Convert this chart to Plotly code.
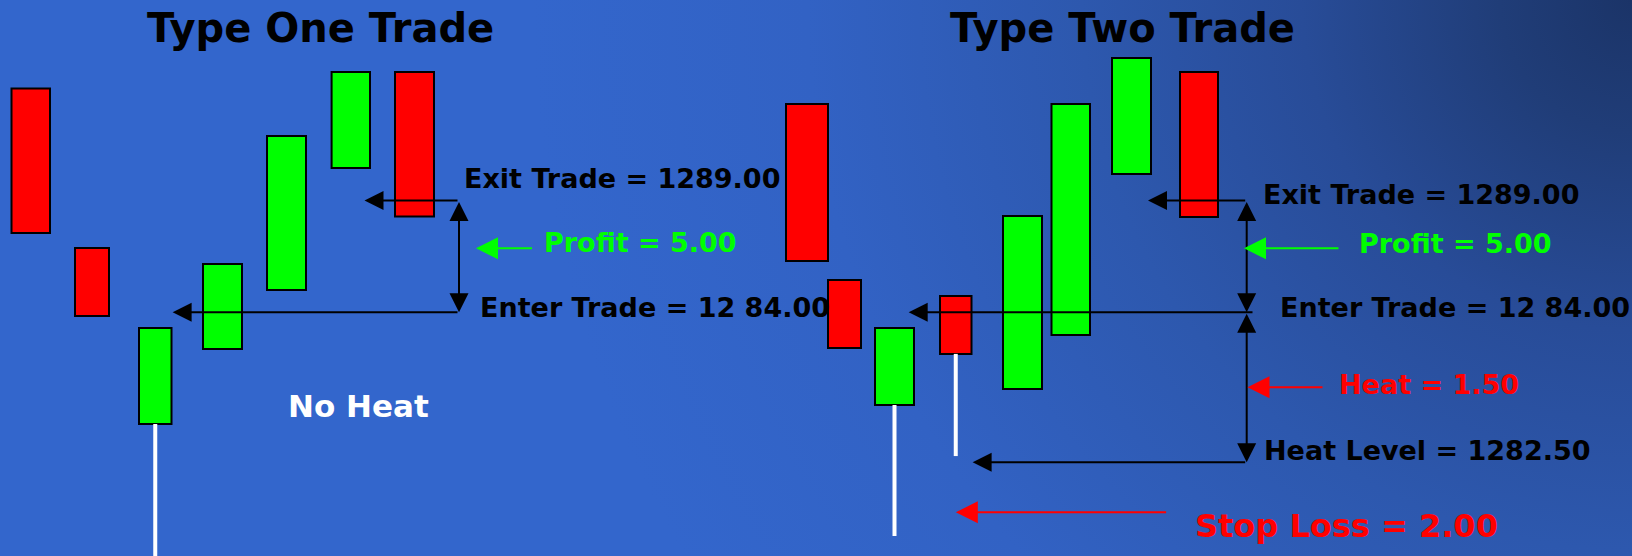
import base64
import plotly.graph_objects as go

# ---------------------------------------------------------------------------
# Candles: horizontal slot centre, body width, open, close, low (price)
# first 7 = "Type One Trade", last 8 = "Type Two Trade"
# ---------------------------------------------------------------------------
cndl_x = [30.75, 92.0, 155.25, 222.5, 286.5, 350.8, 414.5,
          807.0, 844.5, 894.5, 955.75, 1022.5, 1070.75, 1131.5, 1199.0]
cndl_w = [38.5, 34.0, 32.5, 39.0, 39.0, 38.4, 39.0,
          42.0, 33.0, 39.0, 31.5, 39.0, 38.5, 39.0, 38.0]
cndl_open = [1294.01, 1286.88, 1279.00, 1282.36, 1285.00, 1290.45, 1294.75,
             1293.32, 1285.44, 1279.85, 1284.73, 1280.57, 1282.98, 1290.19, 1294.75]
cndl_close = [1287.55, 1283.83, 1283.30, 1286.16, 1291.88, 1294.75, 1288.28,
              1286.29, 1282.40, 1283.30, 1282.14, 1288.31, 1293.32, 1295.37, 1288.26]
cndl_low = [1287.55, 1283.83, 1272.80, 1282.36, 1285.00, 1290.45, 1288.28,
            1286.29, 1282.40, 1274.00, 1277.57, 1280.57, 1282.98, 1290.19, 1288.26]

# Trade levels
exit_price = 1289.00
enter_price = 1284.00
heat_level = 1282.50
profit = 5.00
heat = 1.50
stop_loss = 2.00

# Pointer levels for the coloured call-out arrows
profit_pointer = 1286.86
heat_pointer = enter_price - heat / 2
stop_pointer = enter_price - stop_loss
no_heat_level = 1279.81

# Horizontal anchor points of the measuring arrows
t1_measure_x, t2_measure_x = 459.0, 1246.7
t1_exit_tip, t1_enter_tip = 364.5, 172.6
t2_exit_tip, t2_enter_tip, t2_enter_tail, t2_heat_tip = 1148.0, 908.7, 1254.0, 972.6
t1_profit_arrow = (533.5, 476.0)
t2_profit_arrow = (1340.0, 1244.0)
heat_arrow = (1324.0, 1247.5)
stop_arrow = (1167.6, 955.8)

GREEN = "#00ff00"
RED = "#ff0000"
FONT = "DejaVu Sans"

fig = go.Figure()

# White lower wicks (drawn first so the bodies sit on top)
wx, wy = [], []
for x, o, c, lo in zip(cndl_x, cndl_open, cndl_close, cndl_low):
    if lo < min(o, c):
        wx += [x, x, None]
        wy += [lo, min(o, c), None]
fig.add_trace(go.Scatter(x=wx, y=wy, mode="lines",
                         line=dict(color="white", width=4),
                         hoverinfo="skip", showlegend=False))

# Candle bodies
fig.add_trace(go.Bar(
    x=cndl_x,
    y=[abs(c - o) for o, c in zip(cndl_open, cndl_close)],
    base=[min(o, c) for o, c in zip(cndl_open, cndl_close)],
    width=cndl_w,
    marker=dict(color=[GREEN if c > o else RED for o, c in zip(cndl_open, cndl_close)],
                line=dict(color="black", width=2)),
    hoverinfo="skip", showlegend=False,
))
# invisible trace to activate the expanded heat-zone axis
fig.add_trace(go.Scatter(x=[t2_measure_x], y=[heat_level], yaxis="y2", mode="markers",
                         marker=dict(opacity=0), hoverinfo="skip", showlegend=False))


def arrow(x_tip, y_tip, x_tail, y_tail, color="black", yref="y", both=False,
          size=1.9, width=2):
    return dict(x=x_tip, y=y_tip, ax=x_tail, ay=y_tail, xref="x", yref=yref,
                axref="x", ayref=yref, text="", showarrow=True,
                arrowhead=2, arrowsize=size, arrowwidth=width, arrowcolor=color,
                startarrowhead=2, startarrowsize=size,
                arrowside="end+start" if both else "end")


def label(x, y, text, color="black", size=27, yref="y", yshift=0, xanchor="left"):
    return dict(x=x, y=y, xref="x", yref=yref, text=text, showarrow=False,
                xanchor=xanchor, yanchor="middle", yshift=yshift,
                font=dict(family=FONT, size=size, color=color, weight="bold"))


annotations = [
    # Type One
    arrow(t1_exit_tip, exit_price, t1_measure_x, exit_price),
    arrow(t1_measure_x, enter_price, t1_measure_x, exit_price, both=True),
    arrow(t1_enter_tip, enter_price, t1_measure_x, enter_price),
    arrow(t1_profit_arrow[1], profit_pointer, t1_profit_arrow[0], profit_pointer,
          color=GREEN, size=2.2),
    label(462, exit_price, f"Exit Trade = {exit_price:.2f}", yshift=22),
    label(542, profit_pointer, f"Profit = {profit:.2f}", color=GREEN, yshift=5.6),
    label(478, enter_price, "Enter Trade = 12 84.00", yshift=5.3),
    label(358.4, no_heat_level, "No Heat", color="white", size=31, xanchor="center"),
    # Type Two
    arrow(t2_exit_tip, exit_price, t2_measure_x, exit_price),
    arrow(t2_measure_x, enter_price, t2_measure_x, exit_price, both=True),
    arrow(t2_enter_tip, enter_price, t2_enter_tail, enter_price),
    arrow(t2_measure_x, heat_level, t2_measure_x, enter_price, yref="y2", both=True),
    arrow(t2_heat_tip, heat_level, t2_measure_x, heat_level, yref="y2"),
    arrow(t2_profit_arrow[1], profit_pointer, t2_profit_arrow[0], profit_pointer,
          color=GREEN, size=2.2),
    arrow(heat_arrow[1], heat_pointer, heat_arrow[0], heat_pointer,
          color=RED, yref="y2", size=2.2),
    arrow(stop_arrow[1], stop_pointer, stop_arrow[0], stop_pointer,
          color=RED, yref="y2", size=2.2),
    label(1261, exit_price, f"Exit Trade = {exit_price:.2f}", yshift=6),
    label(1357, profit_pointer, f"Profit = {profit:.2f}", color=GREEN, yshift=5),
    label(1278, enter_price, "Enter Trade = 12 84.00", yshift=5),
    label(1337, heat_pointer, f"Heat = {heat:.2f}", color=RED, yref="y2", yshift=3.3),
    label(1262, heat_level, f"Heat Level = {heat_level:.2f}", yref="y2", yshift=11.8),
    label(1193, stop_pointer, f"Stop Loss = {stop_loss:.2f}", color=RED, size=32,
          yref="y2", yshift=-13.7),
    # Titles
    dict(x=320, y=0.949, xref="x", yref="paper", text="Type One Trade",
         showarrow=False, xanchor="center", yanchor="middle",
         font=dict(family=FONT, size=40, color="black", weight="bold")),
    dict(x=1122, y=0.949, xref="x", yref="paper", text="Type Two Trade",
         showarrow=False, xanchor="center", yanchor="middle",
         font=dict(family=FONT, size=40, color="black", weight="bold")),
]

# Blue backdrop, darkening towards the top-right corner
svg = (
    '<svg xmlns="http://www.w3.org/2000/svg" width="1632" height="556">'
    '<defs><radialGradient id="bg" gradientUnits="userSpaceOnUse" cx="1632" cy="0" r="1100">'
    '<stop offset="0" stop-color="#1b3468"/>'
    '<stop offset="0.12" stop-color="#203d78"/>'
    '<stop offset="0.3" stop-color="#284c98"/>'
    '<stop offset="0.5" stop-color="#2d58ae"/>'
    '<stop offset="0.75" stop-color="#3262c4"/>'
    '<stop offset="1" stop-color="#3366cc"/>'
    '</radialGradient></defs>'
    '<rect width="1632" height="556" fill="url(#bg)"/></svg>'
)
bg_uri = "data:image/svg+xml;base64," + base64.b64encode(svg.encode()).decode()

fig.update_layout(
    width=1632, height=556, autosize=False,
    margin=dict(l=0, r=0, t=0, b=0),
    paper_bgcolor="#3366cc", plot_bgcolor="rgba(0,0,0,0)",
    barmode="overlay", showlegend=False,
    xaxis=dict(range=[0, 1632], visible=False, fixedrange=True),
    yaxis=dict(range=[1273.101, 1297.967], visible=False, fixedrange=True),
    # expanded scale for the small heat / stop distances below the entry
    yaxis2=dict(range=[1281.563, 1287.123], overlaying="y", visible=False, fixedrange=True),
    annotations=annotations,
    images=[dict(source=bg_uri, xref="paper", yref="paper", x=0, y=1,
                 sizex=1, sizey=1, sizing="stretch", layer="below",
                 xanchor="left", yanchor="top")],
)

fig.write_html("out.html", config=dict(displayModeBar=False))
